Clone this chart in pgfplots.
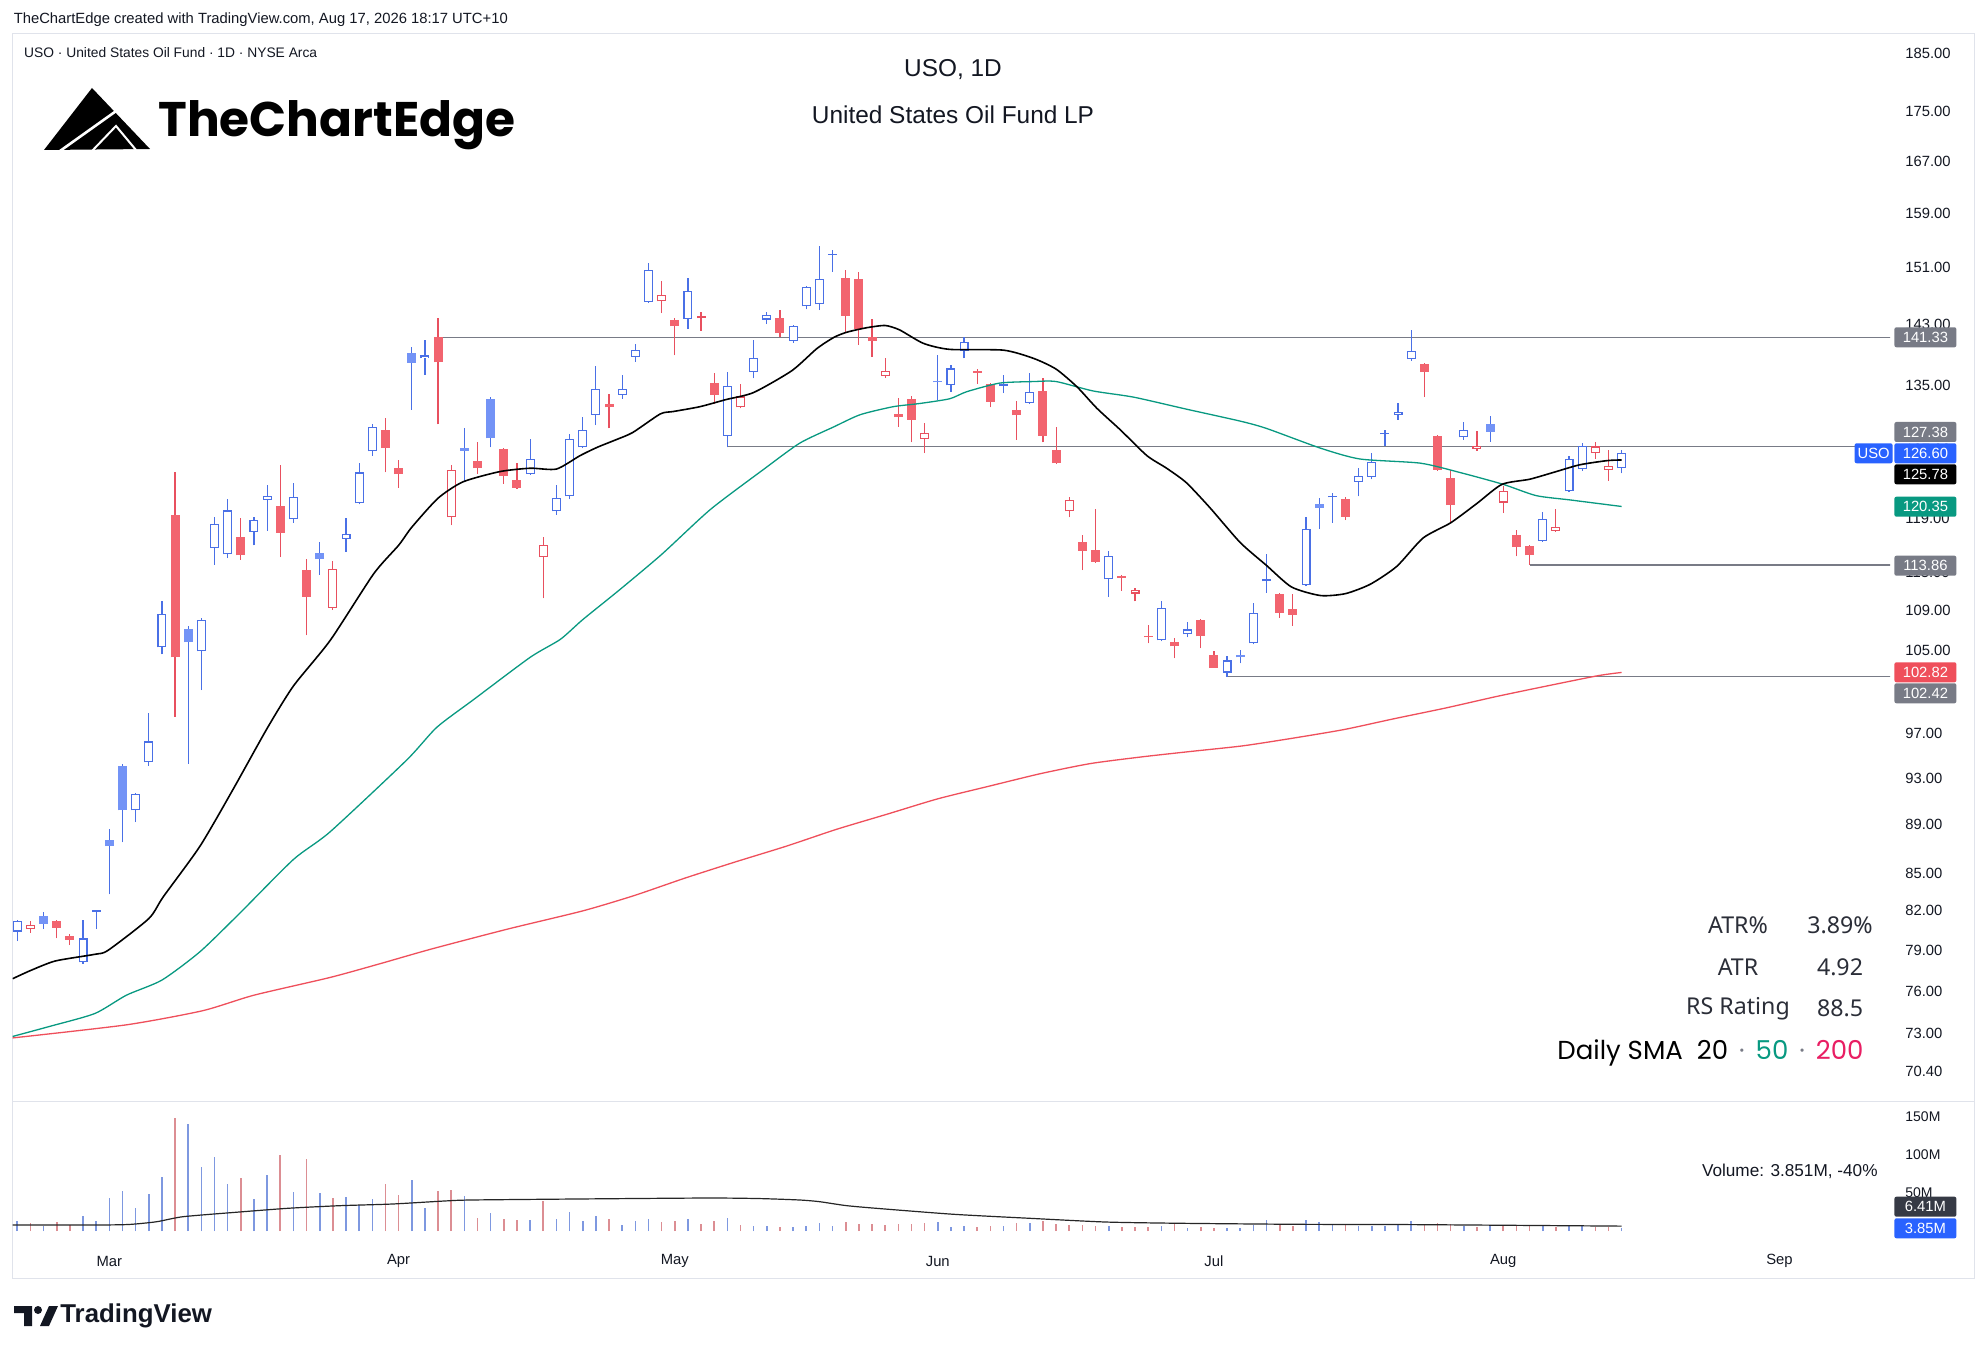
\documentclass[border=0pt]{standalone}
\usepackage{fontspec}
\setmainfont{Liberation Sans}
\newfontfamily\poppins{Poppins}
\newfontfamily\noto{Noto Sans}
\usepackage{pgfplots}
\pgfplotsset{compat=1.18}
\usepackage{pgfplotstable}

\definecolor{bl}{HTML}{4A70E6}
\definecolor{blfill}{HTML}{7393F6}
\definecolor{rd}{HTML}{E8505F}
\definecolor{rdfill}{HTML}{F2646F}
\definecolor{vbl}{HTML}{7E98E0}
\definecolor{vrd}{HTML}{DC8E93}
\definecolor{teal50}{HTML}{089981}
\definecolor{red200}{HTML}{EF4F5B}
\definecolor{lvl}{HTML}{787B86}
\definecolor{txt}{HTML}{131722}
\definecolor{border}{HTML}{E0E3EB}
\definecolor{tvblue}{HTML}{2962FF}
\definecolor{pink200}{HTML}{E91E63}
\definecolor{darkbox}{HTML}{363A45}

% hollow blue candles: i open high low close
\pgfplotstableread{
i O H L C
-7 80.4 81.3 79.7 81.2
-2 78.1 81.3 78.0 79.9
-1 81.9 82.1 80.6 82.05
2 90.2 91.7 89.2 91.6
3 94.4 98.9 94.1 96.3
4 105.3 110.0 104.6 108.7
7 104.9 108.3 101.1 108.1
8 115.7 119.2 113.9 118.4
9 115.0 121.2 114.6 119.9
11 117.5 119.2 116.0 118.8
12 121.1 122.8 117.6 121.6
14 118.9 123.1 118.5 121.4
18 116.7 119.0 115.3 117.3
19 120.7 125.4 120.6 124.3
20 126.8 130.1 126.3 129.8
24 138.5 140.9 136.4 138.9
32 124.1 128.3 124.0 125.9
34 119.8 122.8 119.4 121.3
35 121.5 128.9 121.2 128.3
36 127.3 131.0 127.2 129.4
37 131.3 137.5 130.0 134.6
39 133.8 136.4 133.3 134.6
40 138.7 140.4 138.1 139.6
41 146.1 151.7 146.0 150.7
44 143.8 149.5 142.4 147.7
47 128.7 136.7 127.3 134.9
49 136.7 140.9 135.9 138.6
50 143.7 144.7 143.1 144.3
52 140.8 143.0 140.6 142.9
53 145.5 148.4 145.1 148.2
54 145.8 154.1 145.0 149.4
55 152.8 153.5 150.4 153.0
64 135.0 137.6 134.2 137.2
65 139.5 141.4 138.5 140.7
68 134.9 136.4 134.0 135.2
70 132.8 136.6 132.7 134.2
76 112.3 115.4 110.5 114.8
80 106.0 110.0 105.9 109.3
82 106.6 107.9 106.3 107.1
85 102.8 104.4 102.42 104.0
87 105.7 109.8 105.6 108.8
88 112.1 115.0 110.9 112.3
91 111.7 119.1 111.6 117.8
93 121.4 121.9 118.5 121.6
95 123.2 124.8 121.5 123.9
96 123.8 126.6 123.5 125.5
97 128.9 129.4 127.5 129.1
98 131.3 132.8 130.7 131.6
99 138.4 142.3 138.2 139.5
103 128.5 130.4 128.2 129.4
109 116.5 119.7 116.4 118.9
111 122.1 126.3 122.0 125.9
112 124.7 127.8 124.5 127.5
115 124.8 127.0 124.2 126.6
}\hb

% filled blue candles
\pgfplotstableread{
i O H L C
-5 81.6 81.9 80.6 81.0
0 87.7 88.6 83.3 87.2
1 94.1 94.3 87.5 90.2
6 107.1 107.5 94.3 105.8
16 115.2 116.4 112.8 114.5
23 139.2 140.0 131.9 137.9
27 127.2 129.7 123.2 126.9
29 133.3 133.5 127.3 128.4
63 135.6 138.9 133.1 135.4
86 104.5 105.0 103.7 104.3
92 120.6 121.3 117.8 120.2
105 130.2 131.1 128.0 129.2
}\fb

% hollow red candles
\pgfplotstableread{
i O H L C
-6 80.6 81.2 80.3 80.9
17 109.3 114.3 109.1 113.4
26 119.1 125.2 118.2 124.6
33 114.7 116.9 110.3 116.0
42 146.2 149.1 144.6 147.1
45 143.9 144.7 142.2 144.2
48 132.2 135.2 132.1 133.6
59 136.2 138.6 136.0 136.9
62 128.3 130.3 126.6 129.1
73 119.8 121.4 119.1 121.1
78 110.8 111.4 110.0 111.2
104 127.1 129.3 126.9 127.5
106 120.8 122.7 119.6 122.1
110 117.6 120.1 117.5 118.0
113 126.6 127.9 125.9 127.4
114 124.6 127.0 123.3 125.1
}\hr

% filled red candles
\pgfplotstableread{
i O H L C
-4 81.2 81.3 79.9 80.7
-3 80.1 80.2 79.4 79.8
5 119.4 124.3 98.6 104.3
10 116.9 119.0 114.4 114.9
13 120.4 125.2 114.7 117.4
15 113.3 114.5 106.5 110.5
21 129.4 130.9 124.3 127.2
22 124.8 125.8 122.5 124.1
25 141.3 143.9 130.1 138.0
28 125.7 127.9 124.1 124.8
30 127.1 127.2 123.0 123.9
31 123.4 125.4 122.4 122.5
38 132.6 133.9 129.6 132.2
43 143.6 143.9 138.9 142.8
46 135.3 136.6 132.7 133.8
51 143.9 145.0 141.3 141.9
56 149.5 150.6 142.0 144.2
57 149.3 150.3 140.3 142.4
58 141.4 143.8 138.7 140.8
60 131.4 133.4 129.8 131.0
61 133.3 133.7 127.9 130.7
66 136.8 137.1 135.2 136.6
67 135.2 135.3 132.2 132.9
69 131.9 133.0 128.2 131.2
71 134.3 136.0 127.9 128.7
72 127.0 129.8 125.3 125.4
74 116.4 117.1 113.3 115.4
75 115.5 120.1 114.1 114.2
77 112.7 112.75 111.1 112.5
79 106.45 107.6 105.7 106.3
81 105.8 106.2 104.2 105.4
83 108.1 108.15 105.2 106.4
84 104.5 104.9 103.3 103.3
89 110.8 110.9 108.3 108.8
90 109.2 110.8 107.5 108.6
94 121.2 121.4 118.8 119.2
100 137.8 137.9 133.5 136.7
101 128.7 128.8 124.5 124.6
102 123.7 124.6 118.5 120.5
107 117.1 117.7 114.8 115.8
108 115.9 116.0 113.86 114.9
}\fr

% SMA 20
\pgfplotstableread{
i p
-7.35 76.9
-6.0 77.5
-4.1 78.2
-1.1 78.7
-0.1 79.0
3.0 81.4
4.1 83.1
6.9 87.2
9.4 92.0
12.0 97.5
14.0 101.5
16.8 106.0
20.1 112.9
22.0 116.0
23.0 118.0
25.0 121.3
26.9 123.2
29.7 124.4
32.0 124.8
34.0 124.7
35.8 126.3
37.1 127.3
38.5 128.2
39.8 129.1
41.9 131.4
42.9 131.7
44.9 132.3
46.9 133.2
49.0 134.1
51.9 136.9
53.8 139.8
55.1 141.3
56.1 142.0
57.6 142.6
59.0 142.9
60.1 142.3
61.9 140.5
63.9 139.7
68.0 139.6
70.3 138.5
72.0 137.1
73.6 134.8
75.1 132.1
76.9 129.4
78.9 126.3
80.4 124.8
81.9 123.1
83.7 120.2
86.0 116.3
88.0 113.8
89.9 111.5
92.1 110.6
94.0 110.8
95.9 111.8
97.9 113.7
99.9 116.8
102.0 118.5
104.0 120.7
105.9 122.9
108.0 123.5
109.8 124.3
111.8 125.2
113.9 125.7
115.0 125.78
}\smaA

% SMA 50
\pgfplotstableread{
i p
-7.35 72.8
-4.5 73.5
-1.1 74.4
1.3 75.7
4.0 76.8
6.9 78.9
9.9 81.8
14.0 86.1
16.8 88.4
22.6 94.6
24.9 97.6
27.7 100.2
32.0 104.3
34.3 106.1
36.0 108.1
38.8 111.2
42.0 115.0
45.7 120.0
49.7 124.6
52.5 127.8
55.1 129.8
57.1 131.3
59.6 132.3
61.6 132.7
63.9 133.3
65.2 134.2
67.7 135.3
70.3 135.5
72.0 135.5
74.8 134.3
77.9 133.5
81.9 132.0
86.0 130.5
88.0 129.6
92.1 127.2
95.1 125.9
99.7 125.4
102.7 124.3
106.0 122.9
108.5 121.6
111.1 121.1
115.0 120.35
}\smaB

% SMA 200
\pgfplotstableread{
i p
-7.35 72.7
1.3 73.6
7.1 74.6
11.0 75.7
16.8 77.0
20.6 78.0
24.5 79.1
30.3 80.6
36.0 82.0
39.9 83.2
43.8 84.6
47.6 85.9
51.5 87.2
55.3 88.6
59.2 89.9
63.0 91.2
66.9 92.3
70.8 93.4
74.6 94.3
78.5 94.9
82.3 95.4
86.2 95.9
90.0 96.6
93.9 97.4
97.7 98.4
101.6 99.4
105.5 100.5
109.3 101.5
113.2 102.5
115.0 102.82
}\smaC

% volume, up days
\pgfplotstableread{
i v
-7 13.6
-5 7.0
-2 19.7
-1 13.2
0 43.8
1 53.0
2 30.7
3 48.7
4 71.5
6 140.8
7 84.6
8 97.8
9 61.9
11 42.1
12 73.7
14 51.7
16 49.6
18 45.1
19 34.2
20 42.1
23 67.1
24 30.7
27 46.1
29 24.1
32 14.5
34 15.8
35 24.6
36 13.6
37 19.7
39 7.9
40 13.2
41 15.8
44 15.8
47 17.1
49 6.6
50 6.6
52 5.3
53 6.6
54 10.0
55 6.6
63 11.8
64 5.7
65 6.6
68 6.6
70 10.1
76 7.0
80 7.0
82 3.5
85 4.4
86 3.5
87 7.9
88 14.5
91 14.5
92 11.4
93 7.9
95 7.0
96 7.0
97 7.0
98 7.9
99 13.2
103 7.0
105 6.6
109 7.0
111 7.0
112 7.0
115 3.85
}\volB

% volume, down days
\pgfplotstableread{
i v
-6 10.1
-4 11.4
-3 7.9
5 149
10 70.2
13 100
15 94.8
17 43.0
21 61.9
22 47.4
25 53.0
26 54.0
28 17.5
30 15.8
31 14.5
33 39.9
38 15.8
42 11.4
43 13.2
45 9.2
46 13.2
48 7.9
51 5.3
56 12.2
57 9.2
58 9.2
59 7.9
60 9.2
61 9.2
62 10.1
66 5.7
67 6.6
69 10.1
71 13.2
72 9.2
73 7.9
74 7.9
75 7.0
77 5.7
78 5.7
79 5.7
81 10.1
83 4.9
84 3.5
89 7.9
90 7.0
94 7.9
100 8.8
101 10.1
102 9.2
104 5.7
106 6.6
107 7.0
108 7.0
110 5.7
113 5.7
114 5.7
}\volR

% volume moving average
\pgfplotstableread{
i v
-7.35 7.9
-1 7.9
1.5 8.6
3.6 12.2
5.6 18.8
9.6 24.6
13.6 29.9
17.5 33.3
21.5 35.5
25.5 39.5
27.5 40.8
35.4 42.1
45.4 43.4
49.4 42.7
52.5 40.8
54.0 38.6
56.0 33.5
58.3 29.9
64.2 22.0
70.0 16.7
75.8 11.8
81.7 10.1
90.4 8.8
99.1 8.4
115.0 6.41
}\volMA

% horizontal levels
\pgfplotstableread{
i p
25 141.33
136 141.33
}\lvA
\pgfplotstableread{
i p
47 127.38
136 127.38
}\lvB
\pgfplotstableread{
i p
108 113.86
136 113.86
}\lvC
\pgfplotstableread{
i p
85 102.42
136 102.42
}\lvD

\pgfplotsset{
  cbar/.style 2 args={draw=none, mark=none, forget plot,
     error bars/.cd, y dir=plus, y explicit, error mark=none,
     error bar style={draw=#1, line width=#2}},
}
\newcommand\wick[2]{\addplot[cbar={#2}{0.6pt}] table[x=i, y expr={ln(\thisrow{L})}, y error plus expr={ln(\thisrow{H})-ln(\thisrow{L})}] {#1};}
\newcommand\body[3]{\addplot[cbar={#2}{#3}] table[x=i, y expr={ln(min(\thisrow{O},\thisrow{C}))}, y error plus expr={abs(ln(\thisrow{C})-ln(\thisrow{O}))}] {#1};}
\newcommand\inner[1]{\addplot[cbar={white}{3.4pt}] table[x=i, y expr={ln(min(\thisrow{O},\thisrow{C}))+0.0011}, y error plus expr={max(abs(ln(\thisrow{C})-ln(\thisrow{O}))-0.0022,0)}] {#1};}

\begin{document}
\begin{tikzpicture}
\path[fill=white] (0,0) rectangle (994pt,-676.5pt);

% header texts
\node[anchor=west, text=txt, font=\fontsize{7.4}{9}\selectfont, inner sep=0pt] at (6.7pt,-10pt) {TheChartEdge created with TradingView.com, Aug 17, 2026 18:17 UTC+10};
\draw[border, line width=0.5pt] (6.35pt,-17pt) rectangle (987pt,-639pt);
\draw[border, line width=0.5pt] (6.35pt,-550.5pt) -- (987pt,-550.5pt);
\node[anchor=west, text=txt, font=\fontsize{6.9}{8}\selectfont, inner sep=0pt] at (11.9pt,-26.5pt) {USO · United States Oil Fund · 1D · NYSE Arca};

% logo
\fill[black] (22pt,-75pt) -- (46pt,-44pt) -- (75pt,-74.5pt) -- cycle;
\draw[white, line width=1.3pt] (30pt,-75.5pt) -- (63pt,-52pt);
\draw[white, line width=1pt] (46pt,-75.5pt) -- (58pt,-63pt) -- (68pt,-75pt);
\node[anchor=base west, inner sep=0pt, font=\poppins\bfseries\fontsize{24.3}{29}\selectfont] at (79pt,-68.3pt) {TheChartEdge};

% title
\node[text=txt, font=\fontsize{12.2}{14}\selectfont] at (476.5pt,-35pt) {USO, 1D};
\node[text=txt, font=\fontsize{12.2}{14}\selectfont] at (476.5pt,-57.5pt) {United States Oil Fund LP};

% price pane
\begin{axis}[
  at={(6.35pt,-550.5pt)}, anchor=south west,
  scale only axis, width=938.65pt, height=533.5pt,
  xmin=-7.346, xmax=135.41, ymin=4.226333, ymax=5.238667,
  axis line style={draw=none},
  xtick=\empty,
  ytick={5.22036,5.16479,5.11799,5.06890,5.01728,4.96284,4.90527,4.84419,4.77912,4.72739,4.69135,4.65396,4.57471,4.53260,4.48864,4.44265,4.40672,4.36945,4.33073,4.29046,4.25419},
  yticklabels={185.00,175.00,167.00,159.00,151.00,143.00,135.00,127.00,119.00,113.00,109.00,105.00,97.00,93.00,89.00,85.00,82.00,79.00,76.00,73.00,70.40},
  yticklabel pos=right,
  tick style={draw=none},
  yticklabel style={font=\fontsize{7.4}{9}\selectfont, text=txt, anchor=west, inner sep=0pt, xshift=7.5pt},
]
\addplot[lvl, line width=0.6pt, forget plot] table[x=i, y expr={ln(\thisrow{p})}] {\lvA};
\addplot[lvl, line width=0.6pt, forget plot] table[x=i, y expr={ln(\thisrow{p})}] {\lvB};
\addplot[lvl, line width=0.6pt, forget plot] table[x=i, y expr={ln(\thisrow{p})}] {\lvC};
\addplot[lvl, line width=0.6pt, forget plot] table[x=i, y expr={ln(\thisrow{p})}] {\lvD};

\wick{\fr}{rd}
\body{\fr}{rdfill}{4.5pt}
\wick{\hr}{rd}
\body{\hr}{rd}{4.5pt}
\inner{\hr}
\wick{\fb}{bl}
\body{\fb}{blfill}{4.5pt}
\wick{\hb}{bl}
\body{\hb}{bl}{4.5pt}
\inner{\hb}

\addplot[red200, line width=0.65pt, smooth, tension=0.4] table[x=i, y expr={ln(\thisrow{p})}] {\smaC};
\addplot[teal50, line width=0.65pt, smooth, tension=0.4] table[x=i, y expr={ln(\thisrow{p})}] {\smaB};
\addplot[black, line width=0.8pt, smooth, tension=0.4] table[x=i, y expr={ln(\thisrow{p})}] {\smaA};
\end{axis}

% volume pane
\begin{axis}[
  at={(6.35pt,-615.5pt)}, anchor=south west,
  scale only axis, width=938.65pt, height=65pt,
  xmin=-7.346, xmax=135.41, ymin=0, ymax=171.1,
  axis line style={draw=none},
  tick style={draw=none},
  xtick={0,22,43,63,84,106,127},
  xticklabels={Mar,Apr,May,Jun,Jul,Aug,Sep},
  xticklabel style={font=\fontsize{7.4}{9}\selectfont, text=txt, anchor=center, inner sep=0pt, yshift=-15pt},
  ytick={50,100,150}, yticklabels={50M,100M,150M},
  yticklabel pos=right,
  yticklabel style={font=\fontsize{7}{9}\selectfont, text=txt, anchor=west, inner sep=0pt, xshift=7.5pt},
]
\addplot[ycomb, vbl, line width=0.8pt, mark=none] table[x=i, y=v] {\volB};
\addplot[ycomb, vrd, line width=0.8pt, mark=none] table[x=i, y=v] {\volR};
\addplot[black!85, line width=0.6pt, smooth, tension=0.4] table[x=i, y=v] {\volMA};
\end{axis}

% price scale labels
\tikzset{plabel/.style={fill=#1, text=white, font=\fontsize{7.4}{9}\selectfont, minimum width=31pt, minimum height=10pt, inner sep=0pt, rounded corners=1pt, anchor=west}}
\node[plabel=lvl] at (947pt,-168.65pt) {141.33};
\node[plabel=lvl] at (947pt,-216pt) {127.38};
\node[plabel=tvblue] at (947pt,-226.65pt) {126.60};
\node[fill=tvblue, text=white, font=\fontsize{7.4}{9}\selectfont, minimum width=19pt, minimum height=10pt, inner sep=0pt, rounded corners=1pt, anchor=east] at (946.5pt,-226.65pt) {USO};
\node[plabel=black] at (947pt,-237.15pt) {125.78};
\node[plabel=teal50] at (947pt,-253.35pt) {120.35};
\node[plabel=lvl] at (947pt,-282.85pt) {113.86};
\node[plabel=red200] at (947pt,-336.15pt) {102.82};
\node[plabel=lvl] at (947pt,-346.65pt) {102.42};
\node[plabel=darkbox] at (947pt,-603.35pt) {6.41M};
\node[plabel=tvblue] at (947pt,-614.15pt) {3.85M};

% stats block
\tikzset{stat/.style={text=txt!90, font=\noto\fontsize{11.6}{13}\selectfont, anchor=center, inner sep=0pt}}
\node[stat] at (869pt,-462.5pt) {ATR\%};
\node[stat] at (920pt,-462.5pt) {3.89\%};
\node[stat] at (869pt,-483.6pt) {ATR};
\node[stat] at (920pt,-483.6pt) {4.92};
\node[stat] at (869pt,-504.2pt) {RS Rating};
\node[stat] at (920pt,-504.2pt) {88.5};
\node[text=black, font=\poppins\fontsize{13}{15}\selectfont, anchor=west, inner sep=0pt] at (778.5pt,-526.6pt) {Daily SMA\hspace{7pt}20\hspace{5.5pt}\textcolor{lvl}{·}\hspace{5.5pt}\textcolor{teal50}{50}\hspace{5.5pt}\textcolor{lvl}{·}\hspace{5.5pt}\textcolor{pink200}{200}};

% volume legend
\node[text=txt, font=\fontsize{8.6}{10}\selectfont, anchor=east, inner sep=0pt] at (939pt,-585.8pt) {Volume: 3.851M, -40\%};

% TradingView logo
\fill[txt] (7pt,-653pt) -- (16pt,-653pt) -- (16pt,-663pt) -- (12pt,-663pt) -- (12pt,-656.5pt) -- (7pt,-656.5pt) -- cycle;
\fill[txt] (19pt,-655pt) circle (2pt);
\fill[txt] (20pt,-663pt) -- (24.5pt,-653pt) -- (29pt,-653pt) -- (24.5pt,-663pt) -- cycle;
\node[anchor=west, inner sep=0pt, text=txt, font=\bfseries\fontsize{12.9}{15}\selectfont] at (30pt,-657.8pt) {TradingView};
\end{tikzpicture}
\end{document}
